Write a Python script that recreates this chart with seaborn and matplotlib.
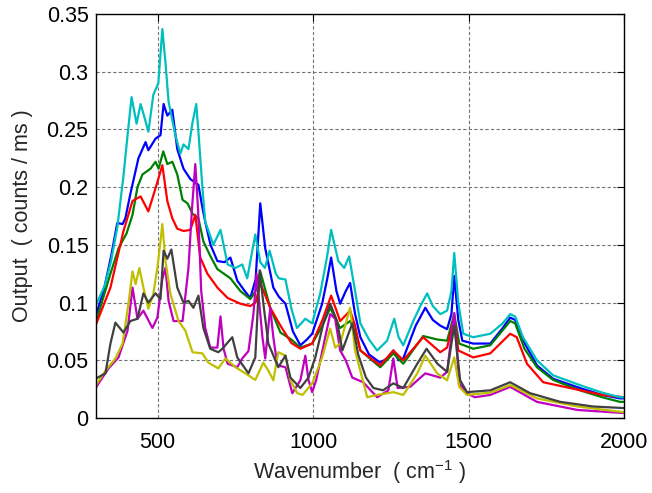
import matplotlib
matplotlib.use("Agg")
import matplotlib.pyplot as plt
import seaborn as sns
import pandas as pd

# ---- data ----
wn_c = [300, 330, 350, 370, 390, 405, 416, 432, 445, 458, 470, 486, 502, 515, 525, 535, 557, 573, 583, 599, 612, 624, 631, 644, 653, 679, 702, 725, 750, 772, 788, 814, 830, 845, 860, 880, 890, 911, 930, 948, 975, 997, 1023, 1045, 1058, 1081, 1100, 1116, 1135, 1152, 1180, 1206, 1238, 1261, 1275, 1290, 1322, 1345, 1367, 1385, 1409, 1431, 1445, 1454, 1467, 1483, 1515, 1570, 1610, 1634, 1650, 1675, 1720, 1772, 1858, 1930, 1987, 2000]
val_c = [0.097, 0.115, 0.136, 0.165, 0.21, 0.25, 0.278, 0.255, 0.272, 0.26, 0.248, 0.28, 0.29, 0.337, 0.308, 0.274, 0.245, 0.229, 0.237, 0.233, 0.256, 0.272, 0.248, 0.199, 0.17, 0.15, 0.163, 0.133, 0.13, 0.133, 0.121, 0.159, 0.135, 0.13, 0.145, 0.125, 0.121, 0.12, 0.095, 0.078, 0.086, 0.082, 0.108, 0.14, 0.163, 0.136, 0.13, 0.14, 0.11, 0.082, 0.068, 0.0585, 0.067, 0.086, 0.07, 0.063, 0.084, 0.097, 0.108, 0.097, 0.09, 0.093, 0.11, 0.143, 0.10, 0.073, 0.07, 0.073, 0.082, 0.09, 0.088, 0.07, 0.05, 0.037, 0.0285, 0.022, 0.018, 0.018]

wn_b = [300, 326, 350, 370, 387, 396, 412, 438, 461, 470, 493, 509, 519, 531, 547, 563, 583, 605, 631, 644, 653, 670, 692, 715, 734, 756, 780, 798, 815, 830, 846, 872, 890, 911, 935, 959, 980, 997, 1029, 1045, 1058, 1075, 1087, 1105, 1119, 1135, 1152, 1180, 1216, 1240, 1258, 1275, 1290, 1330, 1361, 1385, 1409, 1431, 1445, 1454, 1467, 1480, 1515, 1570, 1610, 1634, 1650, 1680, 1720, 1772, 1858, 1930, 1987, 2000]
val_b = [0.088, 0.11, 0.14, 0.169, 0.168, 0.173, 0.194, 0.225, 0.239, 0.232, 0.242, 0.245, 0.272, 0.262, 0.267, 0.233, 0.216, 0.207, 0.202, 0.182, 0.17, 0.15, 0.136, 0.135, 0.139, 0.119, 0.11, 0.104, 0.12, 0.186, 0.147, 0.113, 0.105, 0.099, 0.075, 0.063, 0.068, 0.073, 0.099, 0.12, 0.139, 0.11, 0.099, 0.11, 0.117, 0.09, 0.07, 0.055, 0.048, 0.052, 0.0585, 0.05, 0.0516, 0.08, 0.0955, 0.085, 0.08, 0.077, 0.09, 0.123, 0.085, 0.067, 0.0645, 0.0645, 0.078, 0.087, 0.085, 0.065, 0.0456, 0.034, 0.026, 0.02, 0.017, 0.017]

wn_g = [300, 348, 374, 400, 419, 435, 451, 477, 493, 503, 518, 531, 547, 563, 580, 596, 612, 631, 647, 670, 692, 734, 766, 798, 815, 830, 862, 895, 930, 959, 997, 1030, 1055, 1087, 1119, 1135, 1152, 1216, 1258, 1290, 1354, 1400, 1431, 1454, 1470, 1515, 1570, 1634, 1650, 1680, 1720, 1772, 1858, 1930, 1987, 2000]
val_g = [0.082, 0.125, 0.147, 0.16, 0.176, 0.2, 0.211, 0.216, 0.222, 0.216, 0.231, 0.22, 0.222, 0.211, 0.189, 0.186, 0.177, 0.173, 0.153, 0.14, 0.129, 0.121, 0.11, 0.103, 0.11, 0.127, 0.0955, 0.074, 0.068, 0.061, 0.0645, 0.08, 0.0955, 0.078, 0.084, 0.075, 0.0585, 0.044, 0.056, 0.047, 0.071, 0.068, 0.067, 0.09, 0.0645, 0.06, 0.063, 0.084, 0.082, 0.06, 0.044, 0.033, 0.024, 0.018, 0.014, 0.014]

wn_r = [300, 348, 390, 419, 445, 470, 493, 515, 531, 547, 563, 583, 605, 621, 637, 660, 692, 725, 766, 798, 815, 830, 862, 895, 930, 959, 997, 1030, 1058, 1087, 1119, 1135, 1152, 1216, 1258, 1290, 1354, 1409, 1431, 1454, 1467, 1515, 1570, 1634, 1655, 1688, 1740, 1826, 1930, 2000]
val_r = [0.08, 0.113, 0.162, 0.188, 0.192, 0.179, 0.199, 0.219, 0.188, 0.173, 0.164, 0.162, 0.163, 0.176, 0.139, 0.125, 0.113, 0.104, 0.099, 0.097, 0.1, 0.117, 0.0955, 0.08, 0.065, 0.06, 0.0645, 0.085, 0.106, 0.084, 0.093, 0.08, 0.0585, 0.0456, 0.0585, 0.05, 0.07, 0.057, 0.061, 0.087, 0.0585, 0.0525, 0.056, 0.073, 0.07, 0.047, 0.031, 0.026, 0.02, 0.018]

wn_m = [300, 342, 374, 403, 419, 435, 454, 483, 499, 515, 525, 535, 551, 580, 599, 610, 621, 630, 640, 653, 669, 692, 702, 712, 725, 756, 772, 792, 808, 818, 830, 837, 846, 862, 872, 885, 911, 933, 959, 975, 985, 997, 1010, 1039, 1055, 1071, 1087, 1105, 1126, 1161, 1206, 1242, 1258, 1272, 1312, 1361, 1409, 1431, 1454, 1470, 1495, 1520, 1570, 1634, 1720, 1850, 2000]
val_m = [0.026, 0.043, 0.0525, 0.0757, 0.113, 0.086, 0.093, 0.078, 0.087, 0.1205, 0.13, 0.1015, 0.084, 0.084, 0.13, 0.18, 0.22, 0.18, 0.11, 0.078, 0.061, 0.061, 0.088, 0.06, 0.047, 0.044, 0.0516, 0.058, 0.09, 0.125, 0.09, 0.07, 0.0516, 0.0955, 0.07, 0.0456, 0.044, 0.0215, 0.0327, 0.054, 0.033, 0.0224, 0.033, 0.07, 0.09, 0.086, 0.0585, 0.05, 0.035, 0.031, 0.018, 0.024, 0.0516, 0.026, 0.027, 0.0387, 0.035, 0.04, 0.091, 0.03, 0.0215, 0.018, 0.02, 0.027, 0.014, 0.007, 0.0043]

wn_y = [300, 332, 364, 387, 406, 419, 429, 441, 454, 470, 486, 499, 509, 515, 525, 541, 567, 589, 612, 644, 663, 695, 718, 750, 782, 814, 840, 856, 872, 888, 911, 927, 949, 966, 997, 1029, 1055, 1071, 1087, 1119, 1135, 1174, 1206, 1258, 1290, 1335, 1361, 1399, 1431, 1454, 1470, 1495, 1570, 1634, 1720, 1850, 2000]
val_y = [0.028, 0.041, 0.0516, 0.0645, 0.099, 0.127, 0.116, 0.13, 0.113, 0.0947, 0.1076, 0.13, 0.153, 0.168, 0.136, 0.1076, 0.084, 0.0757, 0.057, 0.056, 0.048, 0.043, 0.0516, 0.044, 0.0387, 0.033, 0.048, 0.041, 0.0327, 0.057, 0.054, 0.0327, 0.0215, 0.02, 0.03, 0.0525, 0.0775, 0.061, 0.0645, 0.0955, 0.0585, 0.018, 0.02, 0.0224, 0.02, 0.0387, 0.054, 0.0387, 0.0327, 0.0525, 0.027, 0.02, 0.022, 0.0285, 0.017, 0.01, 0.005]

wn_k = [300, 332, 348, 364, 390, 412, 435, 454, 470, 493, 509, 519, 531, 544, 563, 583, 599, 615, 631, 647, 669, 695, 708, 740, 756, 792, 814, 828, 840, 856, 888, 911, 927, 959, 985, 1007, 1033, 1055, 1077, 1094, 1126, 1145, 1170, 1194, 1225, 1258, 1290, 1335, 1365, 1400, 1431, 1454, 1473, 1495, 1570, 1634, 1698, 1795, 1900, 2000]
val_k = [0.034, 0.0387, 0.0645, 0.0826, 0.074, 0.084, 0.086, 0.108, 0.1, 0.108, 0.103, 0.145, 0.138, 0.146, 0.113, 0.1, 0.1015, 0.0955, 0.106, 0.078, 0.06, 0.057, 0.06, 0.07, 0.0525, 0.0387, 0.0525, 0.128, 0.099, 0.0645, 0.044, 0.054, 0.035, 0.026, 0.035, 0.0525, 0.082, 0.099, 0.084, 0.0585, 0.082, 0.055, 0.035, 0.026, 0.024, 0.03, 0.026, 0.047, 0.06, 0.047, 0.04, 0.08, 0.0327, 0.0224, 0.024, 0.031, 0.0215, 0.014, 0.01, 0.0086]

series_names = ["b", "g", "r", "c", "m", "y", "k"]
series_wn = [wn_b, wn_g, wn_r, wn_c, wn_m, wn_y, wn_k]
series_val = [val_b, val_g, val_r, val_c, val_m, val_y, val_k]
colors = {"b": (0, 0, 1), "g": (0, 0.5, 0), "r": (1, 0, 0), "c": (0, 0.75, 0.75),
          "m": (0.75, 0, 0.75), "y": (0.75, 0.75, 0), "k": (0.25, 0.25, 0.25)}

x_ticks = [500, 1000, 1500, 2000]
y_ticks = [0, 0.05, 0.1, 0.15, 0.2, 0.25, 0.3, 0.35]
y_tick_labels = ["0", "0.05", "0.1", "0.15", "0.2", "0.25", "0.3", "0.35"]

# ---- build long table ----
rows = []
for name, wns, vals in zip(series_names, series_wn, series_val):
    for i, (w, v) in enumerate(zip(wns, vals)):
        rows.append({"wn": w, "val": v, "series": name, "order": i})
df = pd.DataFrame(rows)

sns.set_style("white")
plt.rcParams["font.family"] = ["Liberation Sans", "DejaVu Sans"]
plt.rcParams["mathtext.fontset"] = "custom"
plt.rcParams["mathtext.rm"] = "Liberation Sans"

fig = plt.figure(figsize=(6.52, 4.93), dpi=100)
ax = fig.add_axes([0.1465, 0.1521, 0.8105, 0.8195])

sns.lineplot(data=df, x="wn", y="val", hue="series", palette=colors,
             hue_order=series_names, sort=False, estimator=None, units="series",
             linewidth=1.6, legend=False, ax=ax)

ax.set_xlim(300, 2000)
ax.set_ylim(0, 0.35)
ax.set_xticks(x_ticks)
ax.set_xticklabels([str(t) for t in x_ticks])
ax.set_yticks(y_ticks)
ax.set_yticklabels(y_tick_labels)
ax.grid(True, color="0.45", linestyle=(0, (3, 2)), linewidth=0.8)
ax.set_axisbelow(True)
for s in ax.spines.values():
    s.set_color("black")
    s.set_linewidth(1.0)
ax.tick_params(direction="in", length=5, width=0.8, top=True, right=True,
               labelsize=15.5, colors="black")
ax.tick_params(axis="x", pad=10)
ax.tick_params(axis="y", pad=5)
ax.set_xlabel("Wavenumber  ( cm$^{-1}$ )", fontsize=15.5, labelpad=4)
ax.set_ylabel("Output  ( counts / ms )", fontsize=15.5, labelpad=10)

fig.savefig("out.png", dpi=100)
